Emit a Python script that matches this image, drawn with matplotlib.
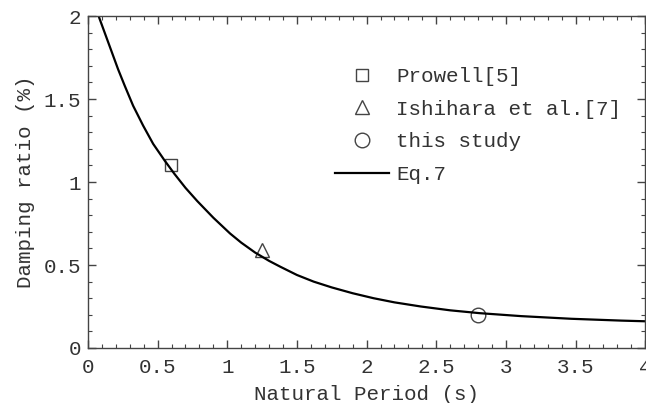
import matplotlib.pyplot as plt
from matplotlib.ticker import MultipleLocator

# Eq.7 curve
eq7_x = [0.072, 0.12, 0.168, 0.216, 0.264, 0.324, 0.396, 0.468, 0.55, 0.62, 0.70,
         0.785, 0.90, 1.02, 1.10, 1.20, 1.30, 1.38, 1.50, 1.62, 1.75, 1.90, 2.05,
         2.20, 2.39, 2.60, 2.81, 3.11, 3.47, 3.83, 4.0]
eq7_y = [2.01, 1.90, 1.79, 1.68, 1.58, 1.46, 1.34, 1.23, 1.13, 1.05, 0.965,
         0.885, 0.785, 0.69, 0.635, 0.575, 0.525, 0.49, 0.44, 0.40, 0.365, 0.33, 0.30,
         0.275, 0.25, 0.227, 0.21, 0.192, 0.176, 0.165, 0.161]

# measured points
prowell_x, prowell_y = [0.595], [1.10]
ishihara_x, ishihara_y = [1.25], [0.59]
study_x, study_y = [2.80], [0.20]

txt = "#333333"
plt.rcParams["font.family"] = ["Liberation Mono", "DejaVu Sans"]
plt.rcParams["font.size"] = 15

fig = plt.figure(figsize=(6.46, 4.03), dpi=100)
ax = fig.add_axes([0.1362, 0.1365, 0.8625, 0.8235])

ax.plot(prowell_x, prowell_y, ls="none", marker="s", ms=8.5, mfc="none",
        mec="#444444", mew=1.0, label="Prowell[5]")
ax.plot(ishihara_x, ishihara_y, ls="none", marker="^", ms=10, mfc="none",
        mec="#444444", mew=1.0, label="Ishihara et al.[7]")
ax.plot(study_x, study_y, ls="none", marker="o", ms=10.5, mfc="none",
        mec="#444444", mew=1.0, label="this study")
ax.plot(eq7_x, eq7_y, color="black", lw=1.6, label="Eq.7")

ax.set_xlim(0, 4)
ax.set_ylim(0, 2)
ax.set_xticks([0, 0.5, 1, 1.5, 2, 2.5, 3, 3.5, 4])
ax.set_xticklabels(["0", "0.5", "1", "1.5", "2", "2.5", "3", "3.5", "4"])
ax.set_yticks([0, 0.5, 1, 1.5, 2])
ax.set_yticklabels(["0", "0.5", "1", "1.5", "2"])
ax.xaxis.set_minor_locator(MultipleLocator(0.1))
ax.yaxis.set_minor_locator(MultipleLocator(0.1))
ax.tick_params(which="both", direction="in", top=True, right=True,
               colors="#444444", labelcolor=txt)
ax.tick_params(which="major", length=6, width=1, pad=5)
ax.tick_params(axis="x", which="major", pad=7)
ax.tick_params(which="minor", length=3, width=0.8)
for s in ax.spines.values():
    s.set_color("#444444")
    s.set_linewidth(1)

ax.set_xlabel("Natural Period (s)", color=txt, labelpad=6)
ax.set_ylabel("Damping ratio (%)", color=txt, labelpad=6)

leg = ax.legend(loc="upper left", bbox_to_anchor=(0.428, 0.872), frameon=False,
                handlelength=2.6, handletextpad=0.34, labelspacing=0.66,
                borderaxespad=0)
for t in leg.get_texts():
    t.set_color(txt)

fig.savefig("out.png", dpi=100)
